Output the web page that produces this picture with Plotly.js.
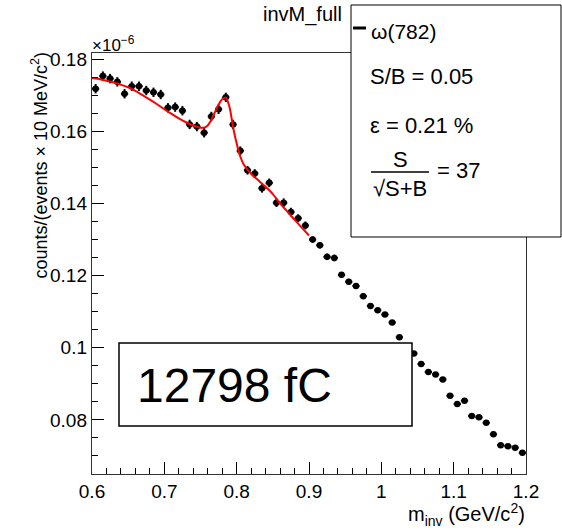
<!DOCTYPE html>
<html>
<head>
<meta charset="utf-8">
<script src="https://cdn.plot.ly/plotly-3.0.1.min.js"></script>
<style>html,body{margin:0;padding:0;background:#fff;}#plot{width:562px;height:531px;}</style>
</head>
<body>
<div id="plot"></div>
<script>
// ---- data (values in units of 1e-6) ----
const binCenters = [0.605,0.615,0.625,0.635,0.645,0.655,0.665,0.675,0.685,0.695,
  0.705,0.715,0.725,0.735,0.745,0.755,0.765,0.775,0.785,0.795,
  0.805,0.815,0.825,0.835,0.845,0.855,0.865,0.875,0.885,0.895,
  0.905,0.915,0.925,0.935,0.945,0.955,0.965,0.975,0.985,0.995,
  1.005,1.015,1.025,1.035,1.045,1.055,1.065,1.075,1.085,1.095,
  1.105,1.115,1.125,1.135,1.145,1.155,1.165,1.175,1.185,1.195];
const counts = [0.1718,0.1753,0.1746,0.1737,0.1704,0.1725,0.1725,0.1713,0.1708,0.1702,
  0.1665,0.1667,0.1657,0.1619,0.1613,0.1596,0.1641,0.1661,0.1694,0.1619,
  0.1546,0.1492,0.1483,0.1442,0.1457,0.1402,0.1402,0.1376,0.1359,0.1339,
  0.1300,0.1284,0.1252,0.1249,0.1202,0.1183,0.1171,0.1143,0.1116,0.1104,
  0.1092,0.1070,0.1029,0.1004,0.0984,0.0955,0.0933,0.0926,0.0912,0.0867,
  0.0844,0.0853,0.0811,0.0807,0.0792,0.0760,0.0730,0.0727,0.0723,0.0709];
const countErr = [0.0013,0.0013,0.0013,0.0013,0.0013,0.0013,0.0013,0.0013,0.0013,0.0013,
  0.0013,0.0013,0.0013,0.0013,0.0013,0.0013,0.0013,0.0013,0.0013,0.0013,
  0.0012,0.0012,0.0012,0.0012,0.0012,0.0012,0.0012,0.0012,0.0011,0.0011,
  0.0009,0.0009,0.0009,0.0009,0.0008,0.0008,0.0008,0.0008,0.0007,0.0007,
  0.0006,0.0006,0.0006,0.0006,0.0006,0.0005,0.0005,0.0005,0.0005,0.0005,
  0.0005,0.0005,0.0005,0.0005,0.0005,0.0005,0.0005,0.0005,0.0005,0.0005];
const fitX = [0.60,0.61,0.62,0.63,0.64,0.65,0.66,0.67,0.68,0.69,0.70,0.71,0.72,0.73,0.74,0.75,
  0.755,0.76,0.765,0.77,0.775,0.78,0.785,0.79,0.795,0.80,0.805,0.81,0.82,0.83,0.84,0.85,0.86,0.87,0.88,0.89,0.90];
const fitY = [0.1748,0.1745,0.1740,0.1735,0.1729,0.1722,0.1712,0.1700,0.1688,0.1675,0.1661,0.1648,0.1636,0.1625,0.1616,0.1610,
  0.1610,0.1616,0.1632,0.1653,0.1674,0.1689,0.1693,0.1668,0.1612,0.1566,0.1530,0.1507,0.1482,0.1464,0.1446,0.1426,0.1400,0.1378,0.1355,0.1333,0.1311];
const xTickVals = [0.6,0.7,0.8,0.9,1.0,1.1,1.2];
const xTickText = ["0.6","0.7","0.8","0.9","1","1.1","1.2"];
const yTickVals = [0.08,0.10,0.12,0.14,0.16,0.18];
const yTickText = ["0.08","0.1","0.12","0.14","0.16","0.18"];

// ---- layout geometry ----
const W = 562, H = 531;
const M = {l: 92, r: 36, t: 53, b: 57};
const PW = W - M.l - M.r, PH = H - M.t - M.b;
const px = v => (v - M.l) / PW;
const py = v => (H - M.b - v) / PH;
const FONT = "Liberation Sans, Arial, Helvetica, sans-serif";

const traces = [
  {
    x: binCenters, y: counts, type: 'scatter', mode: 'markers',
    marker: {color: 'black', size: 6.5, symbol: 'circle'},
    error_y: {type: 'data', array: countErr, color: 'black', thickness: 2, width: 0},
    error_x: {type: 'constant', value: 0.005, color: 'black', thickness: 2, width: 0},
    showlegend: false, hoverinfo: 'x+y'
  },
  {
    x: fitX, y: fitY, type: 'scatter', mode: 'lines',
    line: {color: '#ff0000', width: 2, shape: 'spline', smoothing: 0.8},
    showlegend: false
  }
];

const ann = (x, y, text, size, opts) => Object.assign({
  xref: 'paper', yref: 'paper', x: px(x), y: py(y), text: text, showarrow: false,
  font: {family: FONT, size: size, color: 'black'}, xanchor: 'left', yanchor: 'middle'
}, opts || {});

const layout = {
  width: W, height: H,
  margin: M,
  paper_bgcolor: 'white', plot_bgcolor: 'white',
  showlegend: false,
  font: {family: FONT, color: 'black'},
  xaxis: {
    range: [0.6, 1.2], tickmode: 'array', tickvals: xTickVals, ticktext: xTickText,
    ticks: 'inside', ticklen: 12, tickwidth: 1, tickcolor: 'black',
    minor: {ticks: 'inside', ticklen: 6, dtick: 0.02, tick0: 0.6, tickcolor: 'black', showgrid: false},
    showline: true, linecolor: '#333', linewidth: 1.2, mirror: true,
    showgrid: false, zeroline: false,
    tickfont: {family: FONT, size: 19, color: 'black'}
  },
  yaxis: {
    range: [0.065, 0.1817], tickmode: 'array', tickvals: yTickVals, ticktext: yTickText,
    ticks: 'inside', ticklen: 12, tickwidth: 1, tickcolor: 'black',
    minor: {ticks: 'inside', ticklen: 6, dtick: 0.005, tick0: 0, tickcolor: 'black', showgrid: false},
    showline: true, linecolor: '#333', linewidth: 1.2, mirror: true,
    showgrid: false, zeroline: false,
    tickfont: {family: FONT, size: 19, color: 'black'}
  },
  shapes: [
    // stats / legend box
    {type: 'rect', xref: 'paper', yref: 'paper', x0: px(351), x1: px(561), y0: py(237), y1: py(5),
     fillcolor: 'white', line: {color: 'black', width: 1}, layer: 'above'},
    // legend line sample
    {type: 'line', xref: 'paper', yref: 'paper', x0: px(353), x1: px(366), y0: py(28), y1: py(28),
     line: {color: 'black', width: 3}, layer: 'above'},
    // fraction bar
    {type: 'line', xref: 'paper', yref: 'paper', x0: px(371), x1: px(429), y0: py(172), y1: py(172),
     line: {color: 'black', width: 1.5}, layer: 'above'},
    // big label box
    {type: 'rect', xref: 'paper', yref: 'paper', x0: px(119), x1: px(412), y0: py(426), y1: py(343),
     fillcolor: 'white', line: {color: 'black', width: 1.5}, layer: 'above'}
  ],
  annotations: [
    ann(344, 15, 'invM_full', 20, {xanchor: 'right'}),
    ann(90, 44, '×10<sup>−6</sup>', 17),
    ann(40, 50, 'counts/(events × 10 MeV/c<sup>2</sup>)', 18, {xanchor: 'center', yanchor: 'top', textangle: -90}),
    ann(527, 514, 'm<sub>inv</sub> (GeV/c<sup>2</sup>)', 20, {xanchor: 'right'}),
    ann(369, 31, 'ω(782)', 21),
    ann(368, 77, 'S/B = 0.05', 22),
    ann(368, 125, 'ε = 0.21 %', 22),
    ann(400, 159, 'S', 22, {xanchor: 'center'}),
    ann(400, 189, '√S+B', 22, {xanchor: 'center'}),
    ann(435, 170, '= 37', 22),
    ann(234, 385, '12798 fC', 48, {xanchor: 'center'})
  ]
};

Plotly.newPlot('plot', traces, layout, {staticPlot: true, displayModeBar: false});
</script>
</body>
</html>
